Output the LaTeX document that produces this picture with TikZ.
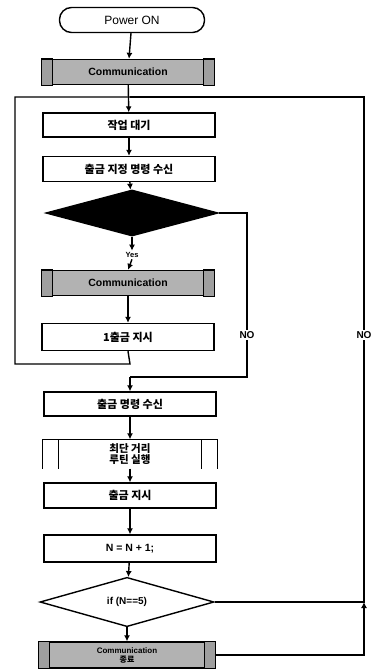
\documentclass[tikz,border=0pt]{standalone}
\usepackage{fontspec}
\setmainfont{Liberation Sans}
\newfontfamily\kr{Noto Sans CJK KR}
\usetikzlibrary{shapes.geometric,arrows.meta,calc}
\begin{document}
\begin{tikzpicture}[x=1pt,y=-1pt,line width=1.4pt,
  proc/.style={draw,rectangle,minimum width=172pt,minimum height=#1,inner sep=0pt,
    font=\kr\bfseries\fontsize{11}{12}\selectfont},
  proc/.default=25pt,
  dark/.style={draw,rectangle,fill=gray!60,minimum width=172pt,minimum height=25pt,inner sep=0pt,
    font=\bfseries\fontsize{10.5}{11}\selectfont,align=center},
  term/.style={draw,rectangle,rounded corners=12pt,minimum width=145pt,minimum height=25pt,
    font=\fontsize{12}{13}\selectfont},
  dia/.style={draw,diamond,inner sep=0pt,minimum width=#1,font=\bfseries\fontsize{10}{11}\selectfont},
  lbl/.style={fill=white,inner sep=1pt,font=\bfseries\fontsize{10}{11}\selectfont},
  arr/.style={-{Latex[length=6pt,width=6pt]}}]
\useasboundingbox (0,0) rectangle (374,670);
% nodes
\node[term] (pwr) at (132,20) {Power ON};
\node[dark] (c1) at (128,72) {Communication};
\node[proc=24pt] (w) at (129,125) {작업 대기};
\node[proc] (r) at (129,169) {출금 지정 명령 수신};
\node[dia=172pt,minimum height=46pt,fill=black] (d1) at (132,213) {};
\node[lbl,font=\bfseries\fontsize{7.5}{8}\selectfont] (yes) at (132,255) {Yes};
\node[dark] (c2) at (128,283) {Communication};
\node[proc=27pt] (g1) at (128,337) {1출금 지시};
\node[proc=24pt] (m) at (130,404) {출금 명령 수신};
\node[draw=none,minimum width=174pt,minimum height=28pt,inner sep=0pt,align=center,
  font=\kr\bfseries\fontsize{10.5}{11}\selectfont] (s) at (130,454) {최단 거리\\루틴 실행};
\node[proc] (g2) at (130,495.5) {출금 지시};
\node[proc=27pt,font=\bfseries\fontsize{10.5}{11}\selectfont] (n) at (130,548.5) {N = N + 1;};
\node[dia=174pt,minimum height=36pt,fill=white] (d2) at (127,602) {if (N==5)};
\node[dark,minimum width=176pt,minimum height=26pt,font=\bfseries\fontsize{8}{9}\selectfont] (c3) at (127,655) {Communication\\\kr 종료};
\node[lbl] (no1) at (247,335) {NO};
\node[lbl] (no2) at (364,335) {NO};
% side bars of predefined-process boxes
\foreach \b in {c1,c2,c3}{
  \draw[fill=gray!75] (\b.north west) rectangle ($(\b.south west)+(11,0)$);
  \draw[fill=gray!75] ($(\b.north east)+(-11,0)$) rectangle (\b.south east);
}
\draw (s.south west) -- (s.north west) -- (s.north east) -- (s.south east);
\draw ($(s.north west)+(16,0)$) -- ($(s.south west)+(16,0)$);
\draw ($(s.north east)+(-16,0)$) -- ($(s.south east)+(-16,0)$);
% coordinates
\coordinate (top) at (130,97);
\coordinate (lt) at (15,97);
\coordinate (j1) at (130,364);
\coordinate (j2) at (130,377);
\coordinate (rb) at (364,602);
% connectors
\draw[arr] (pwr) -- (c1);
\draw[arr] (c1) -- (w);
\draw[arr] (w) -- (r);
\draw[arr] (r) -- (d1);
\draw[arr] (d1.south) -- (yes.north);
\draw[arr] (yes.south) -- (c2.north);
\draw[arr] (c2) -- (g1);
\draw (g1.south) -- (j1) -| (lt) -- (top);
\draw (d1.east) -| (no1.north);
\draw (no1.south) |- (j2);
\draw[arr] (j2) -- (m.north);
\draw[arr] (m) -- (s.north);
\draw[arr] (s.south) -- (g2);
\draw[arr] (g2) -- (n);
\draw[arr] (n) -- (d2);
\draw[arr] (d2) -- (c3);
\draw (d2.east) -- (rb) -- (no2.south);
\draw (no2.north) |- (top);
\draw[arr] (c3.east) -| (rb);
\end{tikzpicture}
\end{document}
